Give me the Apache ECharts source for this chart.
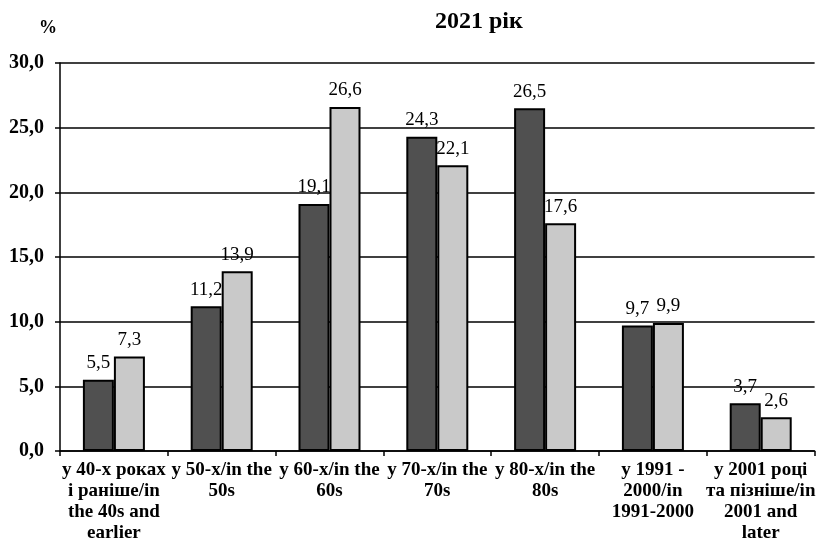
<!DOCTYPE html>
<html><head><meta charset="utf-8">
<script src="https://cdn.jsdelivr.net/npm/echarts@6/dist/echarts.min.js"></script>
<style>html,body{margin:0;padding:0;background:#fff}#c{width:818px;height:548px}</style>
</head><body><div id="c"></div>
<script>
const categories = [
  "у 40-х роках\nі раніше/in\nthe 40s and\nearlier",
  "у 50-х/in the\n50s",
  "у 60-х/in the\n60s",
  "у 70-х/in the\n70s",
  "у 80-х/in the\n80s",
  "у 1991 -\n2000/in\n1991-2000",
  "у 2001 році\nта пізніше/in\n2001 and\nlater"
];
const seriesDark = [5.5, 11.2, 19.1, 24.3, 26.5, 9.7, 3.7];
const seriesLight = [7.3, 13.9, 26.6, 22.1, 17.6, 9.9, 2.6];
const yTicks = { min: 0, max: 30, interval: 5 };
const fmt = v => v.toFixed(1).replace('.', ',');
const serif = "'Liberation Serif', serif";
const chart = echarts.init(document.getElementById('c'));
const labelCfg = { show: true, position: 'top', distance: 7, fontFamily: serif, fontSize: 19, color: '#000', formatter: p => fmt(p.value) };
chart.setOption({
  animation: false,
  textStyle: { fontFamily: serif },
  title: { text: '2021 рік', left: 435, top: 10, padding: 0,
    textStyle: { fontFamily: serif, fontWeight: 'bold', fontSize: 24, color: '#000' } },
  graphic: [{ type: 'text', left: 39, top: 19, style: { text: '%', fontFamily: serif, fontWeight: 'bold', fontSize: 18, fill: '#000' } }],
  grid: { left: 60, top: 63, width: 761, height: 388 },
  xAxis: {
    type: 'category', data: categories,
    axisLine: { lineStyle: { color: '#000', width: 1.5 } },
    axisTick: { show: true, length: 5, lineStyle: { color: '#000', width: 1.5 } },
    axisLabel: { fontFamily: serif, fontWeight: 'bold', fontSize: 19, color: '#000', lineHeight: 21, margin: 9, interval: 0 }
  },
  yAxis: {
    type: 'value', min: yTicks.min, max: yTicks.max, interval: yTicks.interval,
    axisLine: { show: true, lineStyle: { color: '#000', width: 1.5 } },
    axisTick: { show: true, length: 5, lineStyle: { color: '#000', width: 1.5 } },
    splitLine: { lineStyle: { color: '#000', width: 1.5 } },
    axisLabel: { fontFamily: serif, fontWeight: 'bold', fontSize: 20, color: '#000', margin: 16, formatter: fmt }
  },
  series: [
    { type: 'bar', data: seriesDark, barWidth: 31, barGap: '0%',
      itemStyle: { color: '#505050', borderColor: '#000', borderWidth: 2 }, label: labelCfg },
    { type: 'bar', data: seriesLight, barWidth: 31,
      itemStyle: { color: '#c9c9c9', borderColor: '#000', borderWidth: 2 }, label: labelCfg }
  ]
});
</script></body></html>
